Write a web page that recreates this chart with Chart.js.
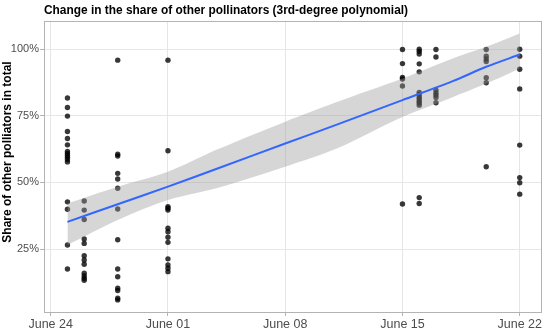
<!DOCTYPE html>
<html>
<head>
<meta charset="utf-8">
<script src="https://cdn.jsdelivr.net/npm/chart.js@4"></script>
<style>
  body { margin: 0; background: #fff; }
  #wrap { width: 550px; height: 332px; }
</style>
</head>
<body>
<div id="wrap"><canvas id="chart" width="550" height="332"></canvas></div>
<script>
// days counted from the first tick ("June 24" = 0)
const xTickDays = [0, 7, 14, 21, 28];
const xTickLabels = ["June 24", "June 01", "June 08", "June 15", "June 22"];
const yTicks = [25, 50, 75, 100];

// observed shares (%) per sampling day
const pointDays = [1, 2, 4, 7, 21, 22, 23, 26, 28];
const shareByDay = [
  [81.7, 78.1, 74.9, 69.1, 66.5, 64.1, 61.6, 60.9, 60.1, 59.4, 58.6, 57.7, 42.7, 39.9, 26.5, 17.5],
  [43, 39.6, 36.1, 28.8, 27.1, 22.5, 20.9, 19.3, 15.9, 14.9, 14.0, 13.3],
  [95.9, 60.6, 59.9, 53.4, 51.3, 47.8, 40, 28.5, 17.5, 14.6, 10.3, 9.4, 6.5, 5.9],
  [95.9, 61.9, 40.9, 40.3, 39.6, 32.8, 31.5, 29.4, 27.5, 21.3, 19, 17.8, 16.5],
  [99.9, 94.6, 89.4, 88.8, 86.2, 41.9],
  [100, 99.2, 98.2, 94.5, 91.5, 83.8, 83, 82.1, 81.3, 80.5, 79.8, 79, 44.3, 42.1],
  [99.9, 97.1, 84.6, 83.6, 82.8, 81.9, 79.9],
  [99.9, 97.4, 96.3, 95.4, 89.3, 87.4, 55.9],
  [100, 97.4, 92.5, 85.1, 64, 51.8, 49.9, 45.6]
];

// fitted polynomial and its confidence band (%)
const fitDays = [1, 4, 7, 10, 14, 17, 21, 24, 26, 28];
const fitShare = [35.2, 41.8, 48.4, 55.3, 64.6, 71.5, 80.9, 88, 93.4, 98];
const fitUpper = [42.1, 48.4, 54, 62.5, 72.8, 80, 89, 96.5, 100.9, 105.9];
const fitLower = [26.5, 35.9, 43.4, 48, 55.9, 62.5, 74.6, 82, 87.1, 92.8];

const yTitle = "Share of other polliators in total";

const points = [];
pointDays.forEach((d, i) => shareByDay[i].forEach(v => points.push({ x: d, y: v })));
const toXY = arr => fitDays.map((d, i) => ({ x: d, y: arr[i] }));

const font = "'Liberation Sans', Arial, sans-serif";

// ggplot-like panel border + y axis title (sits a bit above panel centre in the original)
const panelDecor = {
  id: "panelDecor",
  afterDraw(chart) {
    const { ctx, chartArea: a } = chart;
    ctx.save();
    ctx.strokeStyle = "#b3b3b3";
    ctx.lineWidth = 1;
    ctx.strokeRect(a.left + 0.5, a.top + 0.5, a.right - a.left - 1, a.bottom - a.top - 1);
    ctx.translate(8, 152);
    ctx.rotate(-Math.PI / 2);
    ctx.fillStyle = "#000";
    ctx.font = "bold 12px " + font;
    ctx.textAlign = "center";
    ctx.textBaseline = "middle";
    ctx.fillText(yTitle, 0, 0);
    ctx.restore();
  }
};

new Chart(document.getElementById("chart"), {
  type: "line",
  data: {
    datasets: [
      {
        label: "fit", data: toXY(fitShare), borderColor: "#3366FF", borderWidth: 2,
        pointRadius: 0, tension: 0.3, fill: false, order: 1
      },
      {
        label: "upper", data: toXY(fitUpper), borderWidth: 0, borderColor: "rgba(0,0,0,0)",
        pointRadius: 0, tension: 0.3, fill: "+1", backgroundColor: "rgba(153,153,153,0.4)", order: 2
      },
      {
        label: "lower", data: toXY(fitLower), borderWidth: 0, borderColor: "rgba(0,0,0,0)",
        pointRadius: 0, tension: 0.3, fill: false, order: 2
      },
      {
        label: "obs", data: points, showLine: false, pointRadius: 2.7,
        pointBackgroundColor: "rgba(0,0,0,0.78)", pointBorderWidth: 0, order: 3
      }
    ]
  },
  options: {
    responsive: false,
    animation: false,
    layout: { padding: { left: 0, right: 8, top: 0, bottom: 0 } },
    plugins: {
      legend: { display: false },
      tooltip: { enabled: false },
      title: {
        display: true,
        text: "Change in the share of other pollinators (3rd-degree polynomial)",
        align: "start",
        fullSize: false,
        color: "#000",
        font: { family: font, size: 11.9, weight: "bold" },
        padding: { top: 4, bottom: 2.7 }
      }
    },
    scales: {
      x: {
        type: "linear",
        min: -0.4,
        max: 29.33,
        afterBuildTicks: s => { s.ticks = xTickDays.map(v => ({ value: v })); },
        afterFit: s => { s.height = 19; },
        ticks: {
          color: "#4d4d4d",
          font: { family: font, size: 12.5 },
          padding: 1,
          maxRotation: 0,
          callback: v => xTickLabels[xTickDays.indexOf(v)]
        },
        grid: { color: "#e6e6e6", tickColor: "#b3b3b3", tickLength: 3 },
        border: { display: false }
      },
      y: {
        min: 0.98,
        max: 110.6,
        afterBuildTicks: s => { s.ticks = yTicks.map(v => ({ value: v })); },
        afterFit: s => { s.width = 44; },
        ticks: {
          color: "#4d4d4d",
          font: { family: font, size: 11 },
          padding: 1,
          callback: v => v + "%"
        },
        grid: { color: "#e6e6e6", tickColor: "#b3b3b3", tickLength: 4 },
        border: { display: false }
      }
    }
  },
  plugins: [panelDecor]
});
</script>
</body>
</html>
